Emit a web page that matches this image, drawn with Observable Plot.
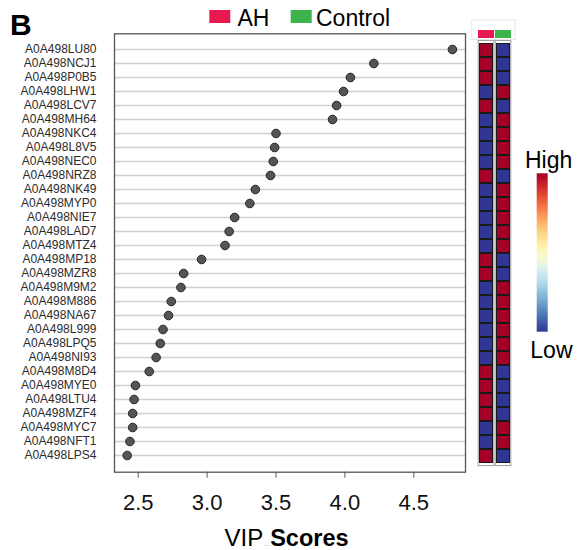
<!DOCTYPE html>
<html>
<head>
<meta charset="utf-8">
<script src="https://cdn.jsdelivr.net/npm/d3@7"></script>
<script src="https://cdn.jsdelivr.net/npm/@observablehq/plot@0.6"></script>
<style>
  html, body { margin: 0; padding: 0; background: #fff; }
  #chart { position: relative; width: 579px; height: 550px; font-family: "Liberation Sans", Arial, sans-serif; }
  #chart > svg { position: absolute; left: 0; top: 0; }
</style>
</head>
<body>
<div id="chart"></div>
<script>
// ---------- data ----------
const labels = ["A0A498LU80","A0A498NCJ1","A0A498P0B5","A0A498LHW1","A0A498LCV7","A0A498MH64",
  "A0A498NKC4","A0A498L8V5","A0A498NEC0","A0A498NRZ8","A0A498NK49","A0A498MYP0","A0A498NIE7",
  "A0A498LAD7","A0A498MTZ4","A0A498MP18","A0A498MZR8","A0A498M9M2","A0A498M886","A0A498NA67",
  "A0A498L999","A0A498LPQ5","A0A498NI93","A0A498M8D4","A0A498MYE0","A0A498LTU4","A0A498MZF4",
  "A0A498MYC7","A0A498NFT1","A0A498LPS4"];
const vipScores = [4.78, 4.21, 4.04, 3.99, 3.94, 3.91, 3.50, 3.49, 3.48, 3.46, 3.35, 3.31, 3.20,
  3.16, 3.13, 2.96, 2.83, 2.81, 2.74, 2.72, 2.68, 2.66, 2.63, 2.58, 2.48, 2.47, 2.46, 2.46, 2.44, 2.42];
// relative abundance level: 1 = high, 0 = low
const ahLevel      = [1,1,1,0,1,0,0,0,0,1,0,0,0,0,0,1,1,0,0,0,0,0,0,1,1,1,1,0,0,1];
const controlLevel = [0,0,0,1,0,1,1,1,1,0,1,1,1,1,1,0,0,1,1,1,1,1,1,0,0,0,0,1,1,0];
const groups = ["AH", "Control"];
const groupColors = ["#E8194F", "#3CB44B"];
const xTicks = [2.5, 3.0, 3.5, 4.0, 4.5];
const levelColors = ["#313695", "#A50026"];

const font = "'Liberation Sans', Arial, sans-serif";
const chart = document.getElementById("chart");

// ---------- VIP dot plot ----------
const dotData = labels.map((l, i) => ({label: l, vip: vipScores[i]}));
const dotPlot = Plot.plot({
  width: 579, height: 550,
  marginLeft: 114, marginRight: 114, marginTop: 33.3, marginBottom: 78.3,
  style: {fontFamily: font, background: "transparent", overflow: "visible"},
  x: {domain: [2.328, 4.875]},
  y: {type: "point", domain: labels, padding: 1.03},
  marks: [
    Plot.ruleY(labels, {stroke: "#d0d0d0", strokeWidth: 1.3}),
    Plot.frame({stroke: "#555", strokeWidth: 1.3}),
    Plot.axisX({ticks: xTicks, tickFormat: d3.format(".1f"), tickSize: 6, tickPadding: 16,
      fontSize: 22, label: null, stroke: "#555", fill: "#111"}),
    Plot.axisY({tickSize: 0, tickPadding: 18, fontSize: 12, label: null, fill: "#2b2b2b"}),
    Plot.dot(dotData, {x: "vip", y: "label", r: 4.3, fill: "#555", stroke: "#222", strokeWidth: 1})
  ]
});
chart.appendChild(dotPlot);

// ---------- heatmap ----------
const heatData = [];
labels.forEach((l, i) => {
  heatData.push({label: l, group: "AH", level: ahLevel[i]});
  heatData.push({label: l, group: "Control", level: controlLevel[i]});
});
const heatPlot = Plot.plot({
  width: 579, height: 550,
  style: {background: "transparent", overflow: "visible"},
  x: {type: "band", domain: groups, range: [479, 510.7], paddingInner: 0.157, paddingOuter: 0, axis: null},
  y: {type: "band", domain: labels, range: [41.2, 464.8], padding: 0, axis: null},
  marks: [
    Plot.cell(heatData, {x: "group", y: "label", fill: d => levelColors[d.level],
      stroke: "#1a1a1a", strokeWidth: 1, inset: 0.5})
  ]
});
chart.appendChild(heatPlot);
{
  const xs = heatPlot.scale("x");
  const svg = d3.select(heatPlot);
  groups.forEach(g => {
    svg.append("rect").attr("x", xs.apply(g) - 0.8).attr("y", 40.4)
      .attr("width", xs.bandwidth + 1.6).attr("height", 425.2)
      .attr("fill", "none").attr("stroke", "#9a9a9a").attr("stroke-width", 1);
  });
}

// ---------- group annotation bars ----------
const annData = groups.map((g, i) => ({group: g, color: groupColors[i], row: "group"}));
const annPlot = Plot.plot({
  width: 579, height: 550,
  style: {background: "transparent", overflow: "visible"},
  x: {type: "band", domain: groups, range: [477.5, 511], paddingInner: 0.08, paddingOuter: 0, axis: null},
  y: {type: "band", domain: ["group"], range: [30.2, 38.5], padding: 0, axis: null},
  marks: [
    Plot.frame({stroke: "none"}),
    Plot.cell(annData, {x: "group", y: "row", fill: "color", inset: 0})
  ]
});
d3.select(annPlot).insert("rect", ":first-child").attr("x", 471.7).attr("y", 20).attr("width", 43.3).attr("height", 19.5)
  .attr("fill", "#fff").attr("stroke", "#e6e6e6").attr("stroke-width", 1);
chart.appendChild(annPlot);

// ---------- legends & titles ----------
const ov = d3.select(chart).append("svg").attr("width", 579).attr("height", 550)
  .style("font-family", font);

ov.append("text").attr("x", 10).attr("y", 35).attr("font-size", 30).attr("font-weight", "bold")
  .attr("fill", "#000").text("B");

// group legend
const legX = [209.3, 290.7];
const legTextX = [237.5, 316];
groups.forEach((g, i) => {
  ov.append("rect").attr("x", legX[i]).attr("y", 10).attr("width", 21).attr("height", 13)
    .attr("fill", groupColors[i]);
  ov.append("text").attr("x", legTextX[i]).attr("y", 25.5).attr("font-size", 23)
    .attr("fill", "#000").text(g);
});

// color ramp legend
const grad = ov.append("defs").append("linearGradient").attr("id", "ramp")
  .attr("x1", 0).attr("x2", 0).attr("y1", 0).attr("y2", 1);
d3.range(0, 1.0001, 0.05).forEach(t => {
  grad.append("stop").attr("offset", t).attr("stop-color", d3.interpolateRdYlBu(t));
});
ov.append("rect").attr("x", 536.7).attr("y", 173.3).attr("width", 11).attr("height", 158.4)
  .attr("fill", "url(#ramp)");
ov.append("text").attr("x", 525).attr("y", 168.3).attr("font-size", 23).attr("fill", "#000").text("High");
ov.append("text").attr("x", 530.3).attr("y", 358.3).attr("font-size", 23).attr("fill", "#000").text("Low");

// x axis title
const t = ov.append("text").attr("x", 224.5).attr("y", 546).attr("font-size", 24).attr("fill", "#000");
t.append("tspan").text("VIP");
t.append("tspan").attr("font-size", 5).attr("fill", "#777").text(".....");
t.append("tspan").attr("font-weight", "bold").attr("font-size", 23.5).text("Scores");
</script>
</body>
</html>
